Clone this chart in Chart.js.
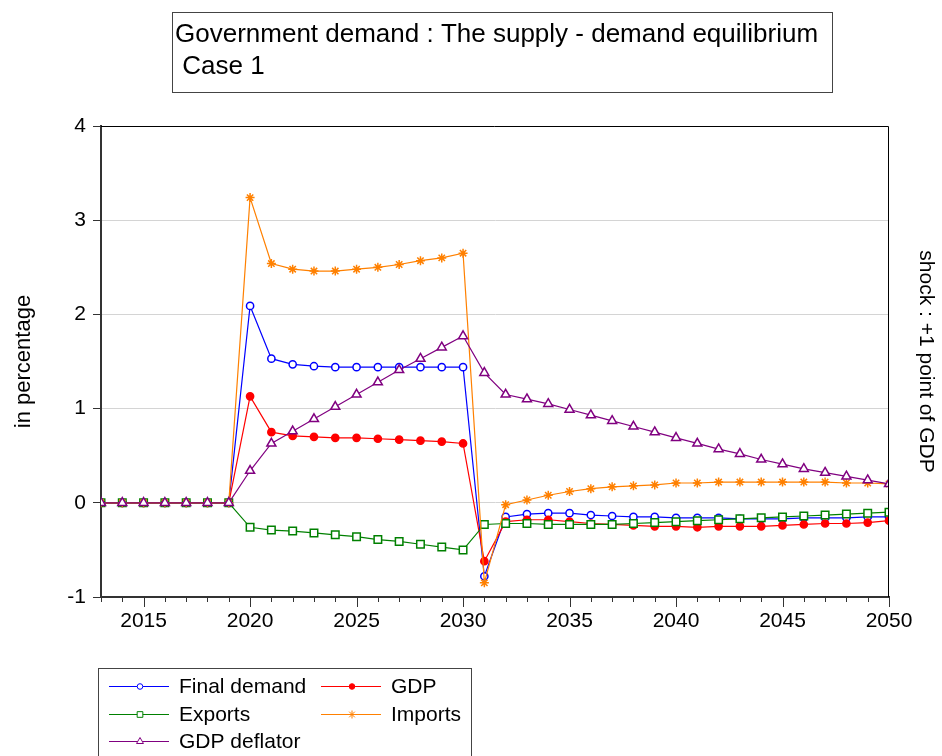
<!DOCTYPE html>
<html>
<head>
<meta charset="utf-8">
<title>Government demand</title>
<script src="https://cdn.jsdelivr.net/npm/chart.js@4"></script>
<style>
  body { margin: 0; background: #fff; }
  canvas { display: block; }
</style>
</head>
<body>
<canvas id="grafico" width="942" height="756"></canvas>
<script>
// series, % deviation from baseline
const years = [2013, 2014, 2015, 2016, 2017, 2018, 2019, 2020, 2021, 2022, 2023, 2024, 2025,
  2026, 2027, 2028, 2029, 2030, 2031, 2032, 2033, 2034, 2035, 2036, 2037, 2038, 2039, 2040,
  2041, 2042, 2043, 2044, 2045, 2046, 2047, 2048, 2049, 2050];
const majorYears = [2015, 2020, 2025, 2030, 2035, 2040, 2045, 2050];
const yTicks = [-1, 0, 1, 2, 3, 4];

const finalDemand = [0, 0, 0, 0, 0, 0, 0,
  2.09, 1.53, 1.47, 1.45, 1.44, 1.44, 1.44, 1.44, 1.44, 1.44, 1.44,
  -0.78, -0.15, -0.12, -0.11, -0.11, -0.13, -0.14, -0.15, -0.15, -0.16,
  -0.16, -0.16, -0.17, -0.17, -0.17, -0.16, -0.16, -0.16, -0.15, -0.15];
const gdp = [0, 0, 0, 0, 0, 0, 0,
  1.13, 0.75, 0.71, 0.70, 0.69, 0.69, 0.68, 0.67, 0.66, 0.65, 0.63,
  -0.62, -0.20, -0.18, -0.18, -0.20, -0.22, -0.23, -0.24, -0.25, -0.25,
  -0.26, -0.25, -0.25, -0.25, -0.24, -0.23, -0.22, -0.22, -0.21, -0.19];
const exportsSerie = [0, 0, 0, 0, 0, 0, 0,
  -0.26, -0.29, -0.30, -0.32, -0.34, -0.36, -0.39, -0.41, -0.44, -0.47, -0.50,
  -0.23, -0.22, -0.22, -0.23, -0.23, -0.23, -0.23, -0.22, -0.21, -0.20,
  -0.19, -0.18, -0.17, -0.16, -0.15, -0.14, -0.13, -0.12, -0.11, -0.10];
const importsSerie = [0, 0, 0, 0, 0, 0, 0,
  3.24, 2.54, 2.48, 2.46, 2.46, 2.48, 2.50, 2.53, 2.57, 2.60, 2.65,
  -0.85, -0.02, 0.03, 0.08, 0.12, 0.15, 0.17, 0.18, 0.19, 0.21,
  0.21, 0.22, 0.22, 0.22, 0.22, 0.22, 0.22, 0.21, 0.21, 0.20];
const gdpDeflator = [0, 0, 0, 0, 0, 0, 0,
  0.34, 0.63, 0.76, 0.89, 1.02, 1.15, 1.28, 1.41, 1.53, 1.65, 1.77,
  1.38, 1.15, 1.10, 1.05, 0.99, 0.93, 0.87, 0.81, 0.75, 0.69,
  0.63, 0.57, 0.52, 0.46, 0.41, 0.36, 0.32, 0.28, 0.24, 0.20];

const titulo = ["Government demand : The supply - demand equilibrium", " Case 1"];
const tituloY = "in percentage";
const tituloDerecha = "shock : +1 point of GDP";

const FUENTE = "'Liberation Sans', Arial, sans-serif";
Chart.defaults.font.family = FUENTE;
Chart.defaults.color = "#000";

function puntos(valores) {
  return years.map((yr, i) => ({ x: yr, y: valores[i] }));
}

function serie(label, valores, color, estilo, radio, relleno, orden) {
  return {
    label: label,
    data: puntos(valores),
    borderColor: color,
    borderWidth: 1.2,
    pointStyle: estilo,
    pointRadius: radio,
    pointBorderWidth: 1.5,
    pointBorderColor: color,
    pointBackgroundColor: relleno,
    tension: 0,
    order: orden
  };
}

const datasets = [
  serie("Final demand", finalDemand, "#0000ff", "circle", 3.6, "#ffffff", 5),
  serie("GDP", gdp, "#ff0000", "circle", 3.6, "#ff0000", 4),
  serie("Exports", exportsSerie, "#008000", "rect", 5.3, "#ffffff", 3),
  serie("Imports", importsSerie, "#ff8000", "star", 4.5, "#ff8000", 2),
  serie("GDP deflator", gdpDeflator, "#800080", "triangle", 5.2, "#ffffff", 1)
];

// marcador pequeño para la leyenda
function marcador(ctx, estilo, x, y, r) {
  ctx.beginPath();
  if (estilo === "circle") {
    ctx.arc(x, y, r, 0, Math.PI * 2);
    ctx.fill(); ctx.stroke();
  } else if (estilo === "rect") {
    const s = r * Math.SQRT1_2;
    ctx.rect(x - s, y - s, 2 * s, 2 * s);
    ctx.fill(); ctx.stroke();
  } else if (estilo === "triangle") {
    ctx.moveTo(x, y - r);
    ctx.lineTo(x + 0.866 * r, y + 0.5 * r);
    ctx.lineTo(x - 0.866 * r, y + 0.5 * r);
    ctx.closePath();
    ctx.fill(); ctx.stroke();
  } else if (estilo === "star") {
    const d = r * Math.SQRT1_2;
    ctx.moveTo(x - r, y); ctx.lineTo(x + r, y);
    ctx.moveTo(x, y - r); ctx.lineTo(x, y + r);
    ctx.moveTo(x - d, y - d); ctx.lineTo(x + d, y + d);
    ctx.moveTo(x - d, y + d); ctx.lineTo(x + d, y - d);
    ctx.stroke();
  }
}

const adornos = {
  id: "adornos",
  afterDraw(chart) {
    const ctx = chart.ctx;
    const area = chart.chartArea;
    const xs = chart.scales.x;
    ctx.save();

    // marco del gráfico
    ctx.strokeStyle = "#000";
    ctx.lineWidth = 1;
    ctx.beginPath();
    ctx.moveTo(area.left, area.top + 0.5);
    ctx.lineTo(area.right - 0.5, area.top + 0.5);
    ctx.lineTo(area.right - 0.5, area.bottom);
    ctx.stroke();

    // marcas del eje x, una por año
    ctx.strokeStyle = "#333";
    ctx.lineWidth = 1;
    years.forEach(yr => {
      const px = Math.round(xs.getPixelForValue(yr)) + 0.5;
      const largo = majorYears.includes(yr) ? 10 : 5;
      ctx.beginPath();
      ctx.moveTo(px, area.bottom);
      ctx.lineTo(px, area.bottom + largo);
      ctx.stroke();
    });

    // títulos de los ejes
    ctx.fillStyle = "#000";
    ctx.textAlign = "center";
    ctx.textBaseline = "middle";
    const medio = (area.top + area.bottom) / 2;
    ctx.save();
    ctx.font = "22px " + FUENTE;
    ctx.translate(24, medio);
    ctx.rotate(-Math.PI / 2);
    ctx.fillText(tituloY, 0, 0);
    ctx.restore();
    ctx.save();
    ctx.font = "21px " + FUENTE;
    ctx.translate(926, medio);
    ctx.rotate(Math.PI / 2);
    ctx.fillText(tituloDerecha, 0, 0);
    ctx.restore();

    // recuadro del título
    ctx.strokeStyle = "#444";
    ctx.lineWidth = 1;
    ctx.strokeRect(172.5, 12.5, 660, 80);
    ctx.font = "26px " + FUENTE;
    ctx.textAlign = "left";
    ctx.textBaseline = "alphabetic";
    ctx.fillText(titulo[0], 175, 42);
    ctx.fillText(titulo[1], 175, 74);

    // leyenda
    ctx.strokeRect(98.5, 668.5, 373, 100);
    const columnas = [109, 321];
    const filas = [686, 714, 741];
    ctx.font = "21px " + FUENTE;
    ctx.textBaseline = "middle";
    datasets.forEach((ds, i) => {
      const x0 = columnas[i % 2];
      const y0 = filas[Math.floor(i / 2)];
      ctx.strokeStyle = ds.borderColor;
      ctx.fillStyle = ds.pointBackgroundColor;
      ctx.lineWidth = 1;
      ctx.beginPath();
      ctx.moveTo(x0, y0 + 0.5);
      ctx.lineTo(x0 + 60, y0 + 0.5);
      ctx.stroke();
      const tam = ds.pointStyle === "circle" ? 2.8 : 4;
      marcador(ctx, ds.pointStyle, x0 + 31, y0 + 0.5, tam);
      ctx.fillStyle = "#000";
      ctx.fillText(ds.label, x0 + 70, y0 + 1);
    });

    ctx.restore();
  }
};

new Chart(document.getElementById("grafico"), {
  type: "line",
  data: { datasets: datasets },
  options: {
    responsive: false,
    animation: false,
    layout: { padding: { left: 0, right: 53, top: 126, bottom: 119 } },
    plugins: {
      legend: { display: false },
      tooltip: { enabled: false }
    },
    scales: {
      x: {
        type: "linear",
        min: 2013,
        max: 2050,
        afterBuildTicks: s => { s.ticks = majorYears.map(v => ({ value: v })); },
        afterFit: s => { s.height = 40; },
        ticks: {
          font: { size: 21 },
          padding: 2,
          maxRotation: 0,
          callback: v => String(v)
        },
        grid: { drawOnChartArea: false, tickLength: 10, tickColor: "rgba(0,0,0,0)" },
        border: { color: "#333", width: 2 }
      },
      y: {
        min: -1,
        max: 4,
        afterBuildTicks: s => { s.ticks = yTicks.map(v => ({ value: v })); },
        afterFit: s => { s.width = 101; },
        ticks: { font: { size: 21 }, padding: 7 },
        grid: {
          color: c => (c.tick && (c.tick.value === -1 || c.tick.value === 4)) ? "rgba(0,0,0,0)" : "#d4d4d4",
          tickColor: "#333",
          tickLength: 8,
          lineWidth: 1
        },
        border: { color: "#333", width: 2 }
      }
    }
  },
  plugins: [adornos]
});
</script>
</body>
</html>
